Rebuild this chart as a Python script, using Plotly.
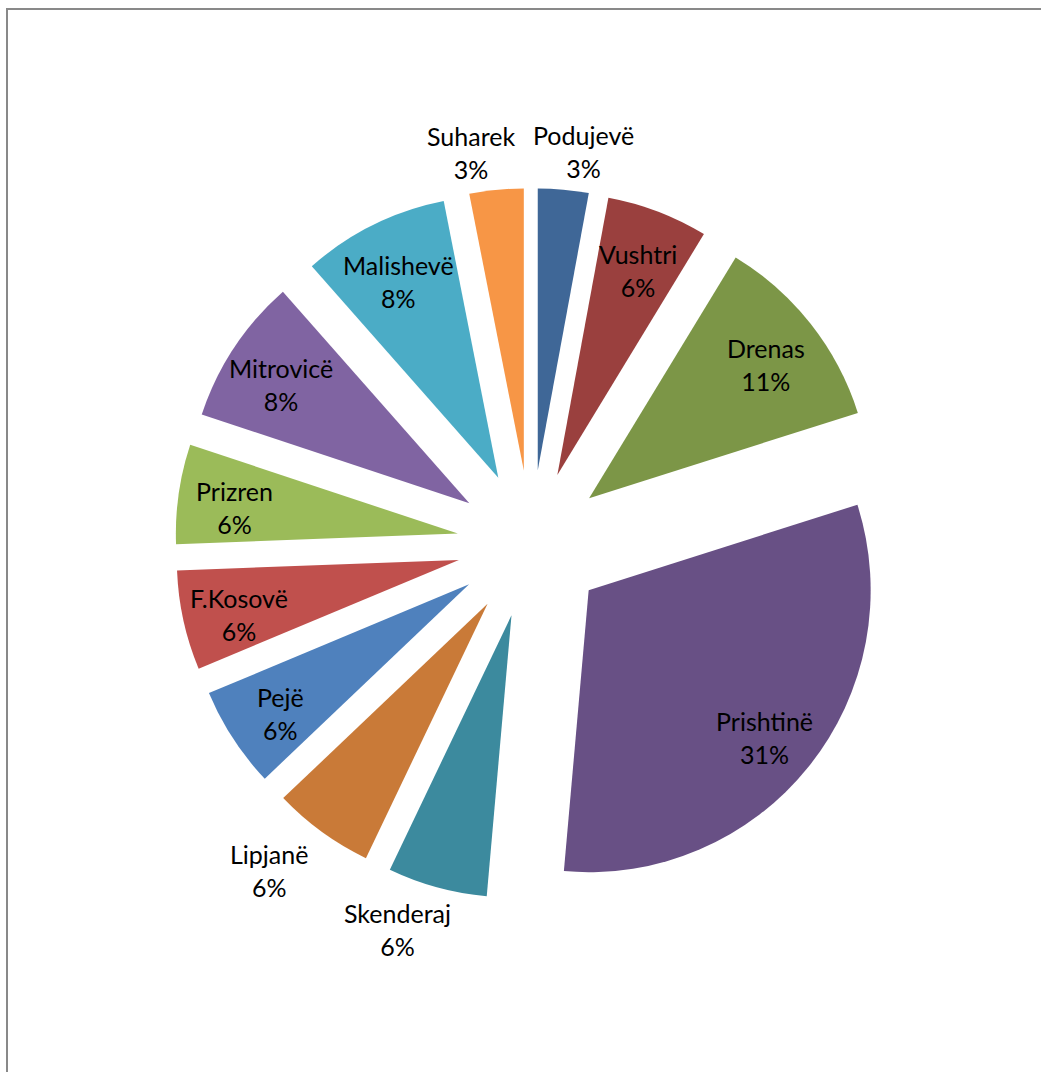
import math
import plotly.graph_objects as go

# ---- data (percent shares) ----
labels = ["Podujevë", "Vushtri", "Drenas", "Prishtinë", "Skenderaj", "Lipjanë",
          "Pejë", "F.Kosovë", "Prizren", "Mitrovicë", "Malishevë", "Suharek"]
values = [2.9, 5.8, 11.4, 31.3, 5.7, 5.8, 5.8, 5.7, 5.7, 8.4, 8.4, 3.1]

# ---- style ----
colors = ["#3F6797", "#9A403E", "#7C9647", "#685085", "#3C8A9E", "#C97A38",
          "#4F81BD", "#C0504D", "#9BBB59", "#8064A2", "#4BACC6", "#F79646"]
label_place = ["outside", "inside", "inside", "inside", "outside", "outside",
               "inside", "inside", "inside", "inside", "inside", "outside"]

W, H = 1041, 1072
FONT = "Lato"
FS = 25
CX, CY = 531, 544          # pie centre (px)
R = 282                    # radius (px)
PULL = 0.262               # explosion as fraction of radius
half = R * (1 + PULL)
dom_x = [(CX - half) / W, (CX + half) / W]
dom_y = [(H - CY - half) / H, (H - CY + half) / H]

fig = go.Figure()
fig.add_trace(go.Pie(
    labels=labels, values=values, sort=False, direction="clockwise", rotation=0,
    pull=[PULL] * len(values),
    marker=dict(colors=colors, line=dict(width=0)),
    textinfo="none", hoverinfo="label+percent",
    domain=dict(x=dom_x, y=dom_y), showlegend=False,
))

# approximate text width helper (for placing outside labels)
narrow = set("iljtfrI.,;:!|' ")
def text_w(s):
    return sum((0.27 if c in narrow else 0.53) for c in s) * 24

total = sum(values)
cum = 0.0
annotations = []
for lab, v, place in zip(labels, values, label_place):
    a0 = cum / total * 360
    cum += v
    a1 = cum / total * 360
    mid = math.radians((a0 + a1) / 2)
    ux, uy = math.sin(mid), -math.cos(mid)
    pct = f"{round(v / total * 100)}%"
    txt = f"{lab}<br>{pct}"
    if place == "inside":
        dist = PULL * R + 0.8 * R
        px, py = CX + dist * ux, CY + dist * uy + 6
    else:
        w = max(text_w(lab), text_w(pct))
        h = 2.4 * 24
        ext = abs(ux) * w / 2 + abs(uy) * h / 2
        dist = PULL * R + R + 6 + ext
        px = CX + dist * ux + math.copysign(w / 4 + 6 * abs(ux), ux) - (8 if ux > 0 else 0)
        py = CY + dist * uy + (1 if uy < 0 else -3)
    annotations.append(dict(
        x=px / W, y=1 - py / H, xref="paper", yref="paper",
        text=txt, showarrow=False, xanchor="center", yanchor="middle",
        align="center", font=dict(family=FONT, size=FS, color="#000000"),
    ))

fig.update_layout(
    width=W, height=H, autosize=False,
    margin=dict(l=0, r=0, t=0, b=0),
    paper_bgcolor="white", plot_bgcolor="white",
    annotations=annotations,
    shapes=[dict(type="rect", xref="paper", yref="paper",
                 x0=7 / W, x1=1.02, y0=-0.02, y1=1 - 9 / H,
                 line=dict(color="#898989", width=2), fillcolor="rgba(0,0,0,0)")],
)

fig.write_html(
    "out.html",
    config={"displayModeBar": False},
    post_script="document.body.style.margin='0';document.body.style.overflow='hidden';",
)
